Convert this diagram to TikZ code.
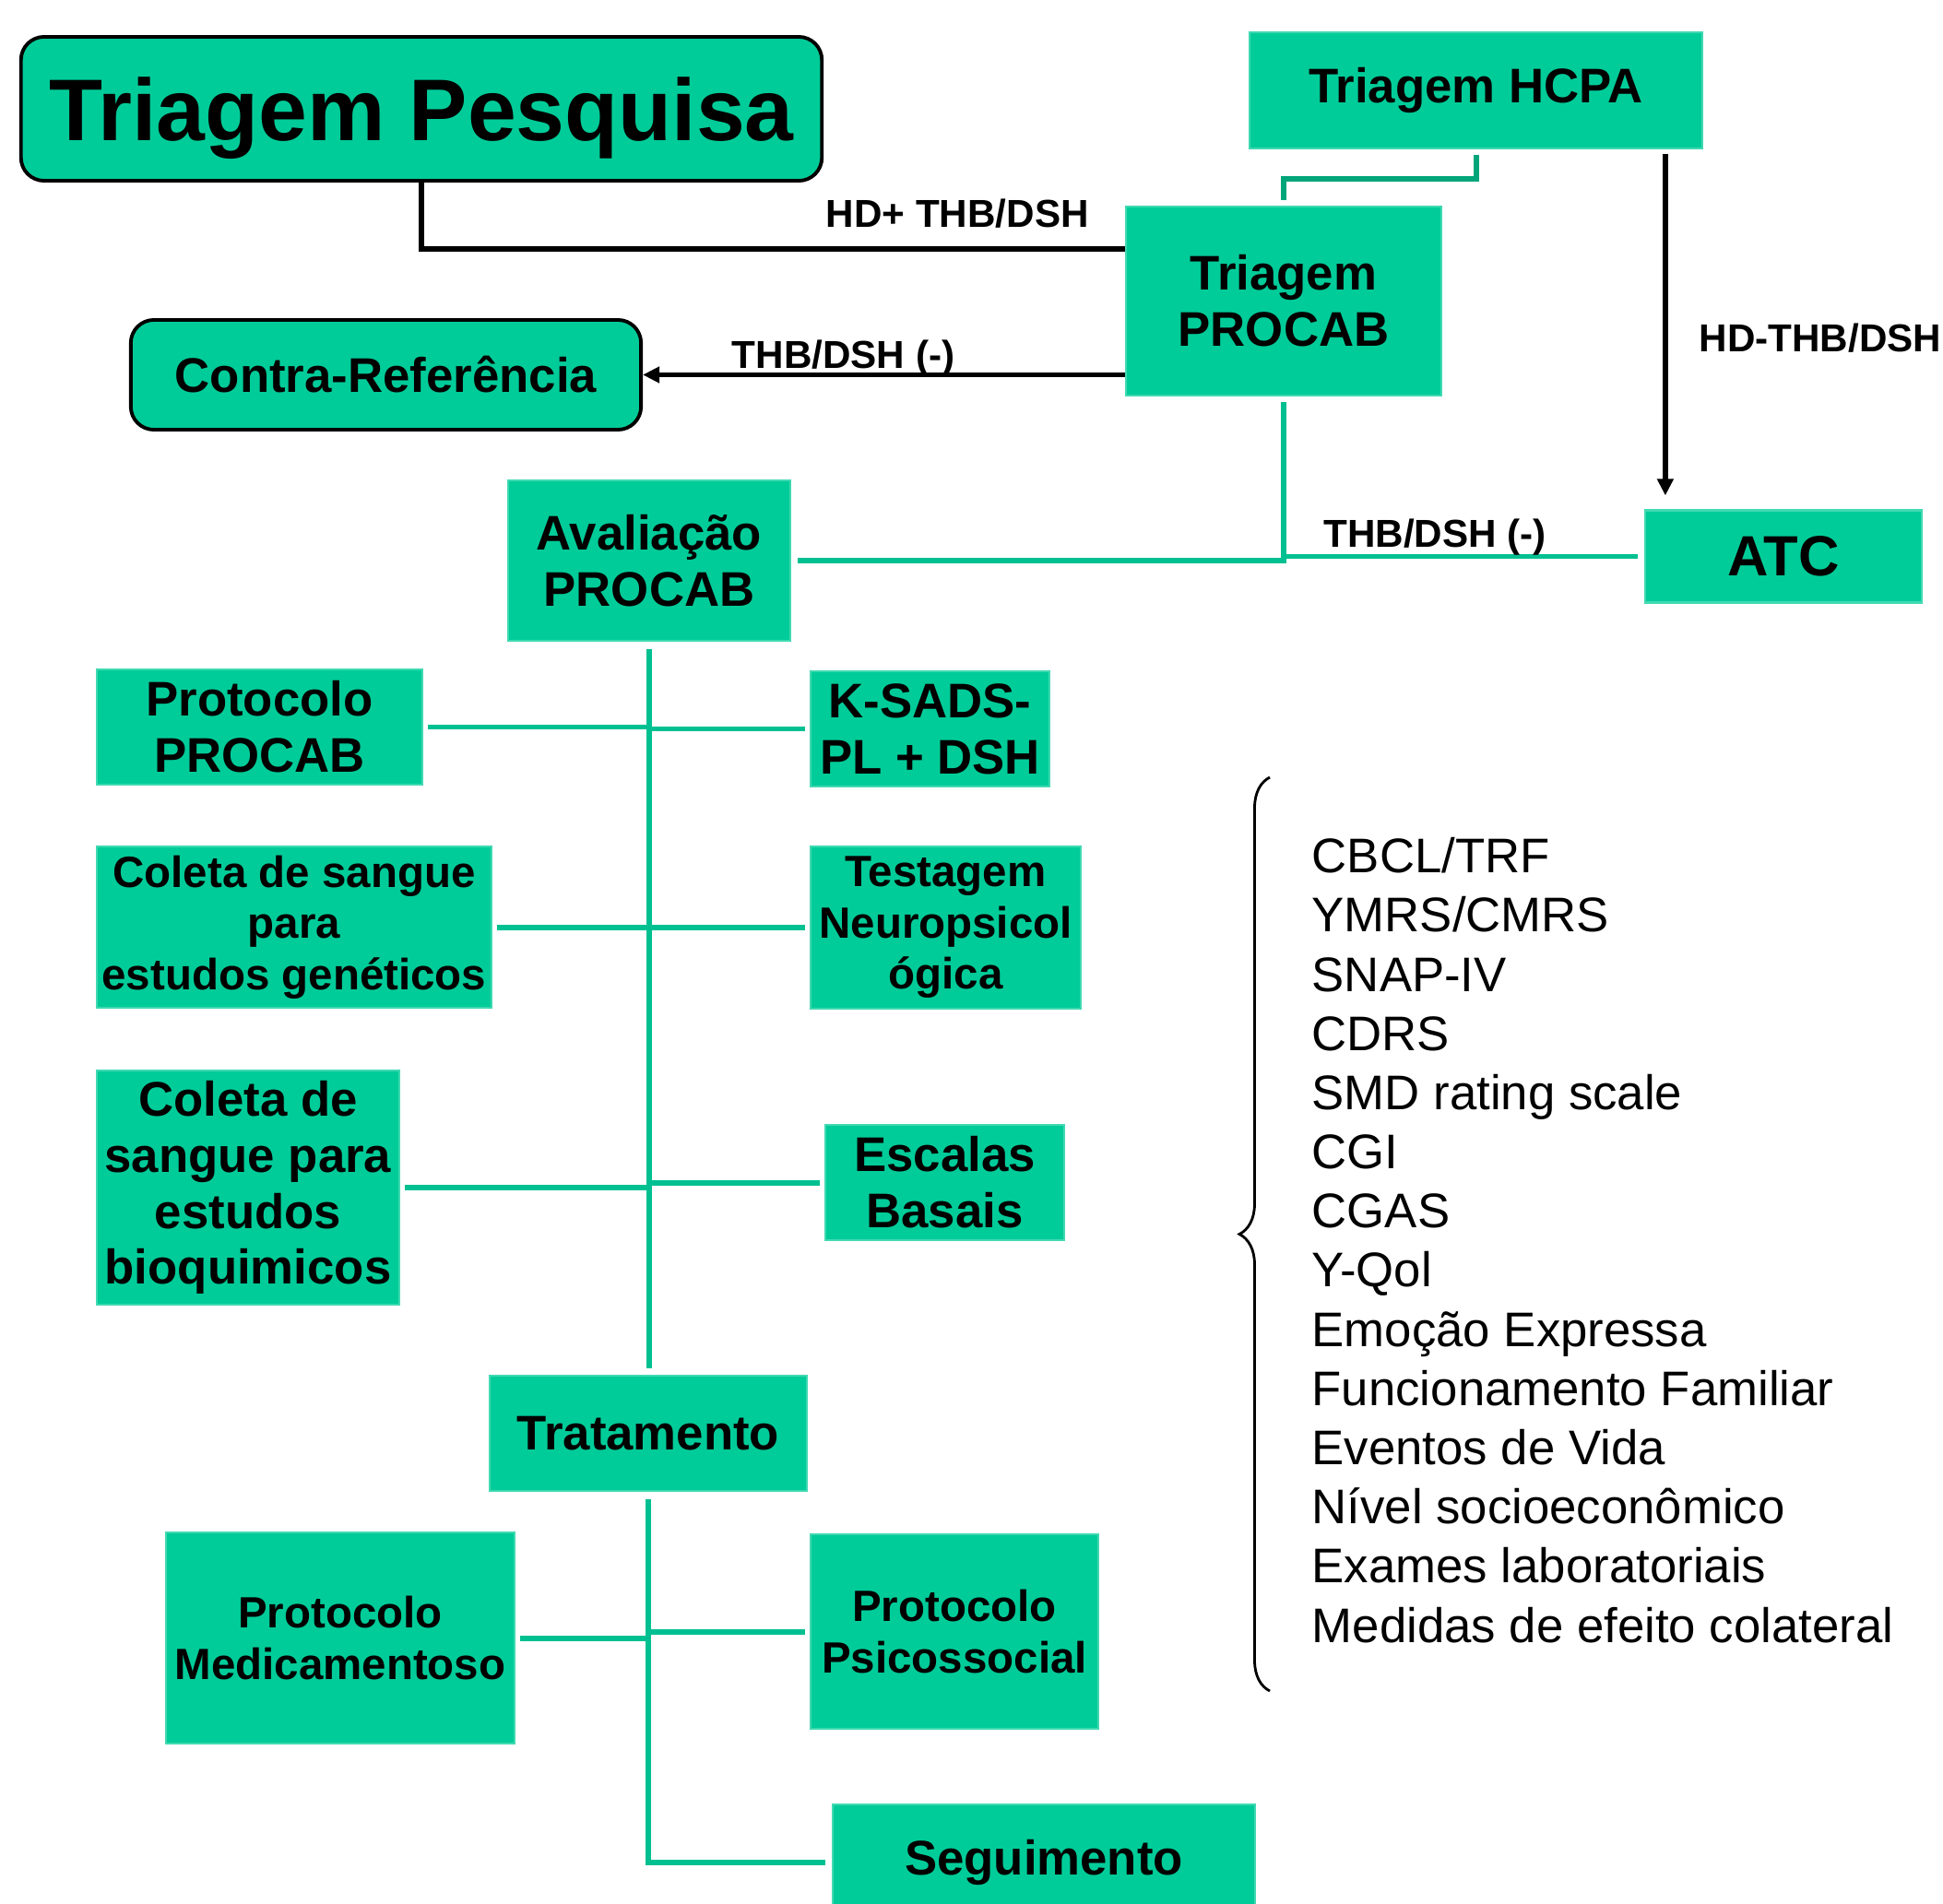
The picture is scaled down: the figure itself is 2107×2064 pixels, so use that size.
\documentclass[tikz,border=0pt]{standalone}
\usepackage{fontspec}
\setmainfont{Liberation Sans}
\usetikzlibrary{arrows.meta,decorations.pathreplacing}
\definecolor{boxgreen}{RGB}{0,204,153}
\definecolor{linegreen}{RGB}{0,192,145}
\definecolor{darkgreen}{RGB}{0,165,122}
\tikzset{
  box/.style={fill=boxgreen, draw=boxgreen!75!white, line width=0.6pt, align=center, inner sep=0pt, font=\bfseries\fontsize{15}{17.3}\selectfont},
  smallbox/.style={box, font=\bfseries\fontsize{13.5}{15.8}\selectfont},
  roundbox/.style={box, draw=black, line width=1.1pt, rounded corners=0.25cm},
  flow/.style={draw=linegreen, line width=1.7pt},
  route/.style={draw=black, line width=1.6pt},
  tag/.style={font=\bfseries\fontsize{12}{14}\selectfont, inner sep=1pt}
}
\begin{document}
\begin{tikzpicture}[x=0.01cm, y=-0.01cm]
\useasboundingbox (0,0) rectangle (2107,2064);
\node[roundbox, minimum width=8.68cm, minimum height=1.56cm, text depth=0pt, font=\bfseries\fontsize{27}{30}\selectfont] (pesq) at (457,118) {Triagem Pesquisa};
\node[box, minimum width=4.91cm, minimum height=1.26cm] (hcpa) at (1600.5,98) {Triagem HCPA};
\node[box, minimum width=3.42cm, minimum height=2.05cm] (tpro) at (1392,326.5) {Triagem\\PROCAB};
\node[roundbox, minimum width=5.53cm, minimum height=1.19cm] (contra) at (418.5,406.5) {Contra-Referência};
\node[box, minimum width=3.06cm, minimum height=1.74cm] (aval) at (704,608) {Avaliação\\PROCAB};
\node[box, minimum width=3.0cm, minimum height=1.0cm, font=\bfseries\fontsize{17.5}{20}\selectfont] (atc) at (1934,603.5) {ATC};
\node[box, minimum width=3.53cm, minimum height=1.25cm] (protpro) at (281.5,788.5) {Protocolo\\PROCAB};
\node[box, minimum width=2.59cm, minimum height=1.25cm] (ksads) at (1008.5,790.5) {K-SADS-\\PL + DSH};
\node[smallbox, minimum width=4.28cm, minimum height=1.75cm] (colgen) at (319,1005.5) {Coleta de sangue\\para\\estudos genéticos};
\node[smallbox, minimum width=2.93cm, minimum height=1.76cm] (testag) at (1025.5,1006) {Testagem\\Neuropsicol\\ógica};
\node[box, minimum width=3.28cm, minimum height=2.54cm] (colbio) at (269,1288) {Coleta de\\sangue para\\estudos\\bioquimicos};
\node[box, minimum width=2.59cm, minimum height=1.25cm] (escalas) at (1024.5,1282.5) {Escalas\\Basais};
\node[box, minimum width=3.44cm, minimum height=1.25cm] (trat) at (703,1554.5) {Tratamento};
\node[smallbox, minimum width=3.78cm, minimum height=2.29cm] (protmed) at (369,1776.5) {Protocolo\\Medicamentoso};
\node[smallbox, minimum width=3.12cm, minimum height=2.11cm] (protpsi) at (1035,1769.5) {Protocolo\\Psicossocial};
\node[box, minimum width=4.58cm, minimum height=1.26cm] (seg) at (1132,2020) {Seguimento};
\node[anchor=base west, align=left, inner sep=0pt, font=\fontsize{15}{18.25}\selectfont] (scales) at (1422,1781) {CBCL/TRF\\YMRS/CMRS\\SNAP-IV\\CDRS\\SMD rating scale\\CGI\\CGAS\\Y-Qol\\Emoção Expressa\\Funcionamento Familiar\\Eventos de Vida\\Nível socioeconômico\\Exames laboratoriais\\Medidas de efeito colateral};
\coordinate (atcin) at ([xshift=0.23cm]atc.north west);
\coordinate (bracelo) at (1377,1834);
\coordinate (bracehi) at (1377,843);
\draw[flow, draw=darkgreen, shorten <=0.06cm, shorten >=0.06cm] (hcpa.south) -- ++(0,32) -| (tpro.north);
\draw[route] (pesq.south) |- node[tag, pos=0.881, anchor=base, yshift=0.23cm] {HD+ THB/DSH} ([yshift=0.565cm]tpro.west);
\draw[route, -{Triangle[length=0.18cm, width=0.17cm]}] (tpro.west |- contra.east) -- node[tag, pos=0.584, anchor=base, yshift=0.065cm] {THB/DSH (-)} (contra.east);
\draw[route, -{Triangle[length=0.18cm, width=0.17cm]}, shorten <=0.05cm, shorten >=0.15cm] (atcin |- hcpa.south) -- node[tag, pos=0.561, anchor=base west, xshift=0.305cm] {HD-THB/DSH} (atcin);
\draw[flow, shorten <=0.06cm, shorten >=0.07cm] (tpro.south) |- (aval.east);
\draw[flow, shorten <=0.06cm, shorten >=0.07cm] (tpro.south) |- node[tag, pos=0.71, anchor=base, yshift=0.1cm] {THB/DSH (-)} (atc.west);
\draw[flow, shorten <=0.08cm, shorten >=0.07cm] (aval.south) -- (aval.south |- trat.north);
\draw[flow, shorten <=0.05cm] (protpro.east) -- (protpro.east -| aval.south);
\draw[flow, shorten <=0.05cm] (ksads.west) -- (ksads.west -| aval.south);
\draw[flow, shorten <=0.05cm] (colgen.east) -- (colgen.east -| aval.south);
\draw[flow, shorten <=0.05cm] (testag.west) -- (testag.west -| aval.south);
\draw[flow, shorten <=0.05cm] (colbio.east) -- (colbio.east -| aval.south);
\draw[flow, shorten <=0.05cm] (escalas.west) -- (escalas.west -| aval.south);
\draw[flow, shorten <=0.08cm, shorten >=0.07cm] (trat.south) |- (seg.west);
\draw[flow, shorten <=0.05cm] (protmed.east) -- (protmed.east -| trat.south);
\draw[flow, shorten <=0.05cm] (protpsi.west) -- (protpsi.west -| trat.south);
\draw[line width=0.8pt, decorate, decoration={brace, amplitude=0.33cm}] (bracelo) -- (bracehi);
\end{tikzpicture}
\end{document}
